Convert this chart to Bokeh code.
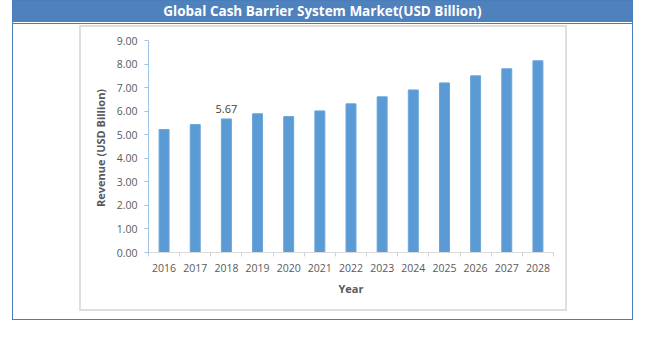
from bokeh.plotting import figure
from bokeh.layouts import column
from bokeh.models import Range1d, FixedTicker, NumeralTickFormatter, Div
from bokeh.core.properties import value
from bokeh.embed import file_html
from bokeh.resources import INLINE

# ---- data ----
years = [2016, 2017, 2018, 2019, 2020, 2021, 2022, 2023, 2024, 2025, 2026, 2027, 2028]
revenue = [5.22, 5.43, 5.67, 5.89, 5.77, 6.01, 6.31, 6.61, 6.90, 7.20, 7.50, 7.80, 8.14]
y_ticks = [0, 1, 2, 3, 4, 5, 6, 7, 8, 9]
label_years = [2018]
label_values = [revenue[years.index(2018)]]
label_texts = ["5.67"]
title_text = "Global Cash Barrier System Market(USD Billion)"
x_title = "Year"
y_title = "Revenue  (USD Billion)"

FONT = "Open Sans"
BAR = "#5B9BD5"
TXT = "#595959"
BLUE = "#4F81BD"
EDGE = "#4A7EBB"

# ---- layout in pixels ----
CW, CH = 484, 282          # chart canvas (inside the light grey box)
FW, FH = 405, 212          # plot frame
BL, BT = 67, 13            # frame offset inside the chart canvas

chart = figure(x_range=Range1d(years[0] - 0.5, years[-1] + 0.5), y_range=Range1d(0, 9),
               frame_width=FW, frame_height=FH,
               min_border_left=BL, min_border_right=CW - BL - FW,
               min_border_top=BT, min_border_bottom=CH - BT - FH,
               output_backend="svg", toolbar_location=None,
               background_fill_color="white", border_fill_color="white",
               margin=(5, 67, 10, 68),
               styles={"box-shadow": "0 0 0 2px #DEDEDE"})
chart.outline_line_color = None
chart.xgrid.grid_line_color = None
chart.ygrid.grid_line_color = None

chart.vbar(x=years, top=revenue, width=0.32, fill_color=BAR, line_color="#6AA5DA", line_width=1)
chart.text(x=label_years, y=label_values, text=label_texts, text_align="center",
           text_baseline="bottom", y_offset=-6, text_font=value(FONT),
           text_font_size="11px", text_color="#404040")

# x axis: labels at the bars, tick marks between categories
xa = chart.xaxis[0]
xa.ticker = FixedTicker(ticks=years, minor_ticks=[y - 0.5 for y in years] + [years[-1] + 0.5])
xa.major_tick_line_color = None
xa.major_tick_out = 0
xa.major_tick_in = 0
xa.minor_tick_line_color = "#D0D0D0"
xa.minor_tick_out = 4
xa.minor_tick_in = 0
xa.axis_line_color = "#D9D9D9"
xa.major_label_text_font = FONT
xa.major_label_text_font_size = "10.5px"
xa.major_label_text_color = TXT
xa.major_label_standoff = 7
xa.axis_label = x_title
xa.axis_label_text_font = FONT
xa.axis_label_text_font_size = "11px"
xa.axis_label_text_font_style = "bold"
xa.axis_label_text_color = TXT
xa.axis_label_standoff = 6

# y axis
ya = chart.yaxis[0]
ya.ticker = FixedTicker(ticks=y_ticks, minor_ticks=[])
ya.formatter = NumeralTickFormatter(format="0.00")
ya.axis_line_color = "#9DC3E6"
ya.major_tick_line_color = "#9DC3E6"
ya.major_tick_out = 4
ya.major_tick_in = 0
ya.minor_tick_line_color = None
ya.major_label_text_font = FONT
ya.major_label_text_font_size = "10.5px"
ya.major_label_text_color = TXT
ya.major_label_standoff = 7
ya.axis_label = y_title
ya.axis_label_text_font = FONT
ya.axis_label_text_font_size = "11px"
ya.axis_label_text_font_style = "bold"
ya.axis_label_text_color = TXT
ya.axis_label_standoff = 6

title = Div(text=title_text, width=619, height=21, margin=(0, 0, 0, 0),
            styles={"background-color": BLUE, "color": "white",
                    "font-family": FONT, "font-weight": "bold", "font-size": "13.5px",
                    "text-align": "center", "line-height": "21px",
                    "box-shadow": f"0 1px 0 #ffffff, 0 2px 0 {EDGE}"})

p = column(title, chart, spacing=0, margin=(1, 0, 0, 13),
           styles={"box-shadow": f"0 0 0 1px {EDGE}", "background-color": "white"})

open("out.html", "w").write(file_html(p, INLINE))
